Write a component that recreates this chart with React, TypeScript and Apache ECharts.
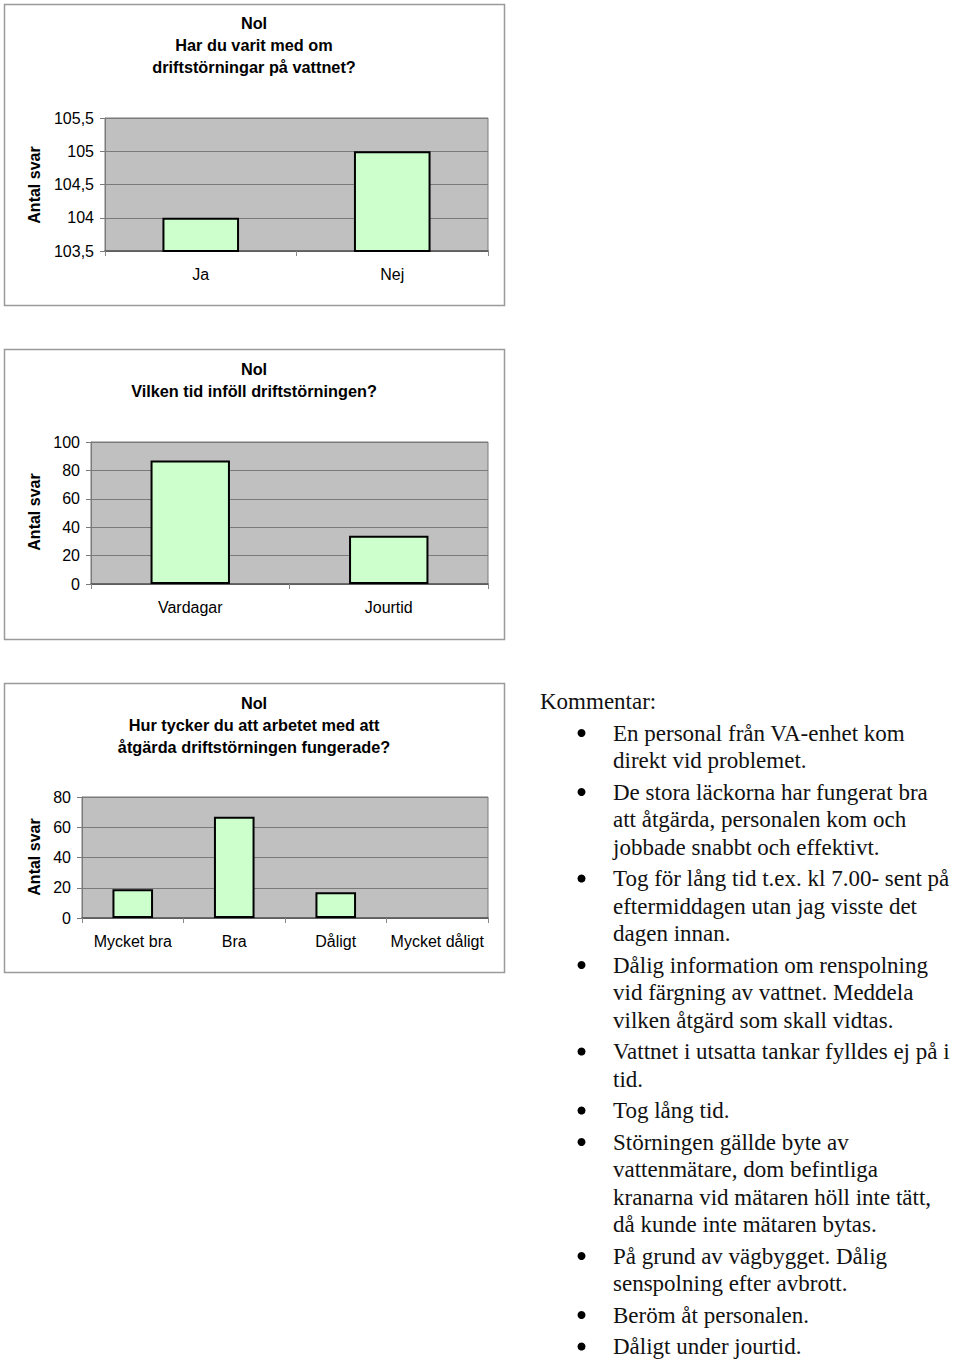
import React, { useEffect, useRef } from "react";
import * as echarts from "echarts";

// ---------- data ----------
const chart1Title = ["Nol", "Har du varit med om", "driftstörningar på vattnet?"];
const chart1Categories = ["Ja", "Nej"];
const chart1Values = [104, 105];
const chart1Min = 103.5;
const chart1Max = 105.5;
const chart1Step = 0.5;

const chart2Title = ["Nol", "Vilken tid inföll driftstörningen?"];
const chart2Categories = ["Vardagar", "Jourtid"];
const chart2Values = [87, 34];
const chart2Min = 0;
const chart2Max = 100;
const chart2Step = 20;

const chart3Title = ["Nol", "Hur tycker du att arbetet med att", "åtgärda driftstörningen fungerade?"];
const chart3Categories = ["Mycket bra", "Bra", "Dåligt", "Mycket dåligt"];
const chart3Values = [19, 67, 17, 0];
const chart3Min = 0;
const chart3Max = 80;
const chart3Step = 20;

const yAxisName = "Antal svar";

const commentHeading = "Kommentar:";
const commentItems: string[][] = [
  ["En personal från VA-enhet kom", "direkt vid problemet."],
  ["De stora läckorna har fungerat bra", "att åtgärda, personalen kom och", "jobbade snabbt och effektivt."],
  ["Tog för lång tid t.ex. kl 7.00- sent på", "eftermiddagen utan jag visste det", "dagen innan."],
  ["Dålig information om renspolning", "vid färgning av vattnet. Meddela", "vilken åtgärd som skall vidtas."],
  ["Vattnet i utsatta tankar fylldes ej på i", "tid."],
  ["Tog lång tid."],
  ["Störningen gällde byte av", "vattenmätare, dom befintliga", "kranarna vid mätaren höll inte tätt,", "då kunde inte mätaren bytas."],
  ["På grund av vägbygget. Dålig", "senspolning efter avbrott."],
  ["Beröm åt personalen."],
  ["Dåligt under jourtid."],
];

// ---------- styles ----------
const SANS = "Liberation Sans, Arial, sans-serif";
const SERIF = "Liberation Serif, Times New Roman, serif";
const GRID_GRAY = "#7a7a7a";
const PLOT_BG = "#C0C0C0";
const BAR_FILL = "#CCFFCC";

const fmt = (v: number) => String(v).replace(".", ",");

function buildOption() {
  const panels = [
    { title: chart1Title, cats: chart1Categories, vals: chart1Values, min: chart1Min, max: chart1Max, step: chart1Step,
      frame: { x: 4, y: 4, w: 500, h: 301 }, grid: { left: 105, top: 118, width: 383, height: 133 }, titleY: 12, nameY: 185 },
    { title: chart2Title, cats: chart2Categories, vals: chart2Values, min: chart2Min, max: chart2Max, step: chart2Step,
      frame: { x: 4, y: 349, w: 500, h: 290 }, grid: { left: 91, top: 442, width: 397, height: 142 }, titleY: 358, nameY: 512 },
    { title: chart3Title, cats: chart3Categories, vals: chart3Values, min: chart3Min, max: chart3Max, step: chart3Step,
      frame: { x: 4, y: 683, w: 500, h: 289 }, grid: { left: 82, top: 797, width: 406, height: 121 }, titleY: 692, nameY: 857 },
  ];

  const grid: any[] = [];
  const xAxis: any[] = [];
  const yAxis: any[] = [];
  const series: any[] = [];
  const graphic: any[] = [];

  panels.forEach((p, i) => {
    graphic.push({
      type: "rect",
      z: -10,
      shape: { x: p.frame.x + 0.5, y: p.frame.y + 0.5, width: p.frame.w, height: p.frame.h },
      style: { fill: "#ffffff", stroke: "#9a9a9a", lineWidth: 1.5 },
      silent: true,
    });
    graphic.push({
      type: "text",
      x: p.frame.x + p.frame.w / 2,
      y: p.titleY,
      style: {
        text: p.title.join("\n"),
        font: `bold 16.3px ${SANS}`,
        fill: "#000",
        align: "center",
        verticalAlign: "top",
        lineHeight: 22,
      },
    });
    graphic.push({
      type: "text",
      x: 34,
      y: p.nameY,
      rotation: Math.PI / 2,
      style: {
        text: yAxisName,
        font: `bold 16px ${SANS}`,
        fill: "#000",
        align: "center",
        verticalAlign: "middle",
      },
    });

    grid.push({
      left: p.grid.left,
      top: p.grid.top,
      width: p.grid.width,
      height: p.grid.height,
      show: true,
      backgroundColor: PLOT_BG,
      borderColor: GRID_GRAY,
      borderWidth: 1,
      containLabel: false,
    });
    xAxis.push({
      type: "category",
      gridIndex: i,
      data: p.cats,
      boundaryGap: true,
      axisLine: { show: true, lineStyle: { color: "#555", width: 1.5 } },
      axisTick: { show: true, alignWithLabel: false, length: 5, lineStyle: { color: "#888" } },
      axisLabel: { color: "#000", fontSize: 16, fontFamily: SANS, margin: 15, interval: 0 },
    });
    yAxis.push({
      type: "value",
      gridIndex: i,
      min: p.min,
      max: p.max,
      interval: p.step,
      axisLine: { show: true, lineStyle: { color: GRID_GRAY, width: 1 } },
      axisTick: { show: true, length: 5, lineStyle: { color: GRID_GRAY } },
      axisLabel: { color: "#000", fontSize: 16, fontFamily: SANS, margin: 11, formatter: fmt },
      splitLine: { show: true, lineStyle: { color: GRID_GRAY, width: 1 } },
    });
    series.push({
      type: "bar",
      xAxisIndex: i,
      yAxisIndex: i,
      data: p.vals.map((v) => (v === 0 ? { value: v, itemStyle: { borderWidth: 0 } } : v)),
      barWidth: "40%",
      clip: true,
      itemStyle: { color: BAR_FILL, borderColor: "#000", borderWidth: 2 },
      silent: true,
    });
  });

  // comments
  const commentFont = `23px ${SERIF}`;
  graphic.push({
    type: "text",
    x: 540,
    y: 701,
    style: { text: commentHeading, font: commentFont, fill: "#111", align: "left", verticalAlign: "middle" },
  });
  let y = 733;
  commentItems.forEach((lines) => {
    graphic.push({
      type: "circle",
      shape: { cx: 581.5, cy: y, r: 4 },
      style: { fill: "#000" },
    });
    lines.forEach((line, li) => {
      graphic.push({
        type: "text",
        x: 613,
        y: y + li * 27.5,
        style: { text: line, font: commentFont, fill: "#111", align: "left", verticalAlign: "middle" },
      });
    });
    y += (lines.length - 1) * 27.5 + 31.5;
  });

  return {
    animation: false,
    backgroundColor: "#ffffff",
    grid,
    xAxis,
    yAxis,
    series,
    graphic,
  };
}

export default function App() {
  const ref = useRef<HTMLDivElement>(null);
  useEffect(() => {
    if (!ref.current) return;
    const chart = echarts.init(ref.current, undefined, { renderer: "svg" });
    chart.setOption(buildOption());
    return () => chart.dispose();
  }, []);
  return (
    <div
      ref={ref}
      style={{ position: "absolute", left: 0, top: 0, width: 960, height: 1361 }}
    />
  );
}
